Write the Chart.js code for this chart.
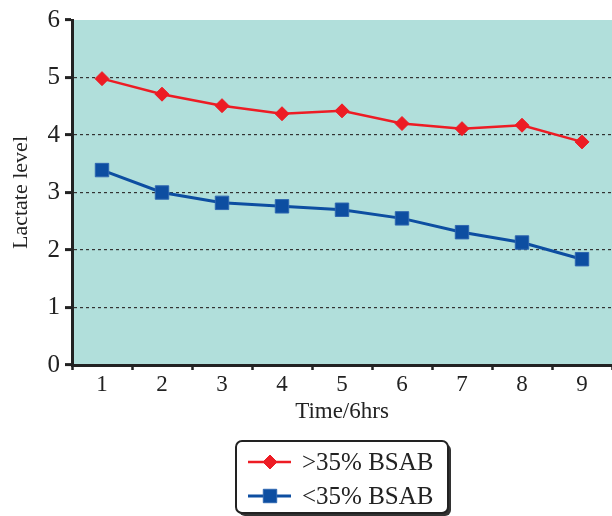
<!DOCTYPE html>
<html>
<head>
<meta charset="utf-8">
<script src="https://cdn.jsdelivr.net/npm/chart.js@4/dist/chart.umd.min.js"></script>
<style>
  html, body { margin: 0; padding: 0; background: #fff; }
  #wrap { width: 612px; height: 516px; }
</style>
</head>
<body>
<div id="wrap"><canvas id="chart" width="612" height="516"></canvas></div>
<script>
const categories = ["1", "2", "3", "4", "5", "6", "7", "8", "9"];
const highBsab = [4.98, 4.71, 4.51, 4.37, 4.42, 4.20, 4.11, 4.17, 3.88];
const lowBsab = [3.39, 3.00, 2.82, 2.76, 2.70, 2.55, 2.31, 2.13, 1.84];
const seriesLabels = [">35% BSAB", "<35% BSAB"];

const FONT = "'Liberation Serif', 'Times New Roman', serif";

// teal plot background
const plotBg = {
  id: "plotBg",
  beforeDraw(chart) {
    const { ctx, chartArea: a } = chart;
    ctx.save();
    ctx.fillStyle = "#b1dfdb";
    ctx.fillRect(a.left, a.top, a.right - a.left, a.bottom - a.top);
    ctx.restore();
  }
};

// boxed legend under the axis title
const boxLegend = {
  id: "boxLegend",
  afterDraw(chart) {
    const ctx = chart.ctx;
    const x = 236, y = 441, w = 212, h = 72, r = 6;
    ctx.save();
    // shadow
    ctx.fillStyle = "#333";
    ctx.beginPath();
    ctx.roundRect(x + 3, y + 3, w, h, r);
    ctx.fill();
    ctx.fillStyle = "#fff";
    ctx.strokeStyle = "#222";
    ctx.lineWidth = 2;
    ctx.beginPath();
    ctx.roundRect(x, y, w, h, r);
    ctx.fill();
    ctx.stroke();

    chart.data.datasets.forEach((ds, i) => {
      const cy = y + 21 + i * 34;
      ctx.strokeStyle = ds.borderColor;
      ctx.lineWidth = ds.borderWidth;
      ctx.beginPath();
      ctx.moveTo(248, cy);
      ctx.lineTo(291, cy);
      ctx.stroke();
      ctx.fillStyle = ds.pointBackgroundColor;
      ctx.strokeStyle = ds.pointBorderColor;
      ctx.lineWidth = 1;
      Chart.helpers.drawPoint(ctx, {
        pointStyle: ds.pointStyle,
        radius: ds.pointRadius,
        borderWidth: 1
      }, 270, cy);
      ctx.fillStyle = "#222";
      ctx.font = "25px " + FONT;
      ctx.textBaseline = "middle";
      ctx.textAlign = "left";
      ctx.fillText(ds.label, 302, cy + 1);
    });
    ctx.restore();
  }
};

new Chart(document.getElementById("chart"), {
  type: "line",
  data: {
    labels: categories,
    datasets: [
      {
        label: seriesLabels[0],
        data: highBsab,
        borderColor: "#ed1c24",
        backgroundColor: "#ed1c24",
        pointBackgroundColor: "#ed1c24",
        pointBorderColor: "#ed1c24",
        borderWidth: 2.5,
        pointStyle: "rectRot",
        pointRadius: 7,
        pointHoverRadius: 7,
        pointBorderWidth: 1,
        tension: 0
      },
      {
        label: seriesLabels[1],
        data: lowBsab,
        borderColor: "#0d4ea1",
        backgroundColor: "#0d4ea1",
        pointBackgroundColor: "#0d4ea1",
        pointBorderColor: "#2e66b0",
        borderWidth: 3,
        pointStyle: "rect",
        pointRadius: 9.5,
        pointHoverRadius: 9.5,
        pointBorderWidth: 1,
        tension: 0
      }
    ]
  },
  options: {
    responsive: false,
    animation: false,
    layout: { autoPadding: false, padding: { top: 20, right: 0, bottom: 90, left: 0 } },
    plugins: {
      legend: { display: false },
      tooltip: { enabled: false }
    },
    scales: {
      x: {
        offset: true,
        grid: {
          offset: true,
          color: "rgba(0,0,0,0)",
          tickColor: "#222",
          tickLength: 5,
          tickWidth: 2.5
        },
        border: { color: "#222", width: 3 },
        ticks: { color: "#222", font: { family: FONT, size: 23 }, padding: 1 },
        title: {
          display: true,
          text: "Time/6hrs",
          color: "#222",
          font: { family: FONT, size: 23 },
          padding: { top: 0, bottom: 0 }
        },
        afterFit(scale) {
          scale.height = 61;
          scale.paddingLeft = 0;
          scale.paddingRight = 0;
        }
      },
      y: {
        min: 0,
        max: 6,
        ticks: { stepSize: 1, color: "#222", font: { family: FONT, size: 25 }, padding: 5 },
        grid: {
          color: (c) => (c.tick && (c.tick.value === 0 || c.tick.value === 6)) ? "rgba(0,0,0,0)" : "#333",
          lineWidth: 1.2,
          tickColor: "#222",
          tickLength: 7,
          tickWidth: 3,
          tickBorderDash: []
        },
        border: { color: "#222", width: 3, dash: [3, 3] },
        title: {
          display: true,
          text: "Lactate level",
          color: "#222",
          font: { family: FONT, size: 22 },
          padding: { top: 8, bottom: 0 }
        },
        afterFit(scale) { scale.width = 72; }
      }
    }
  },
  plugins: [plotBg, boxLegend]
});
</script>
</body>
</html>
